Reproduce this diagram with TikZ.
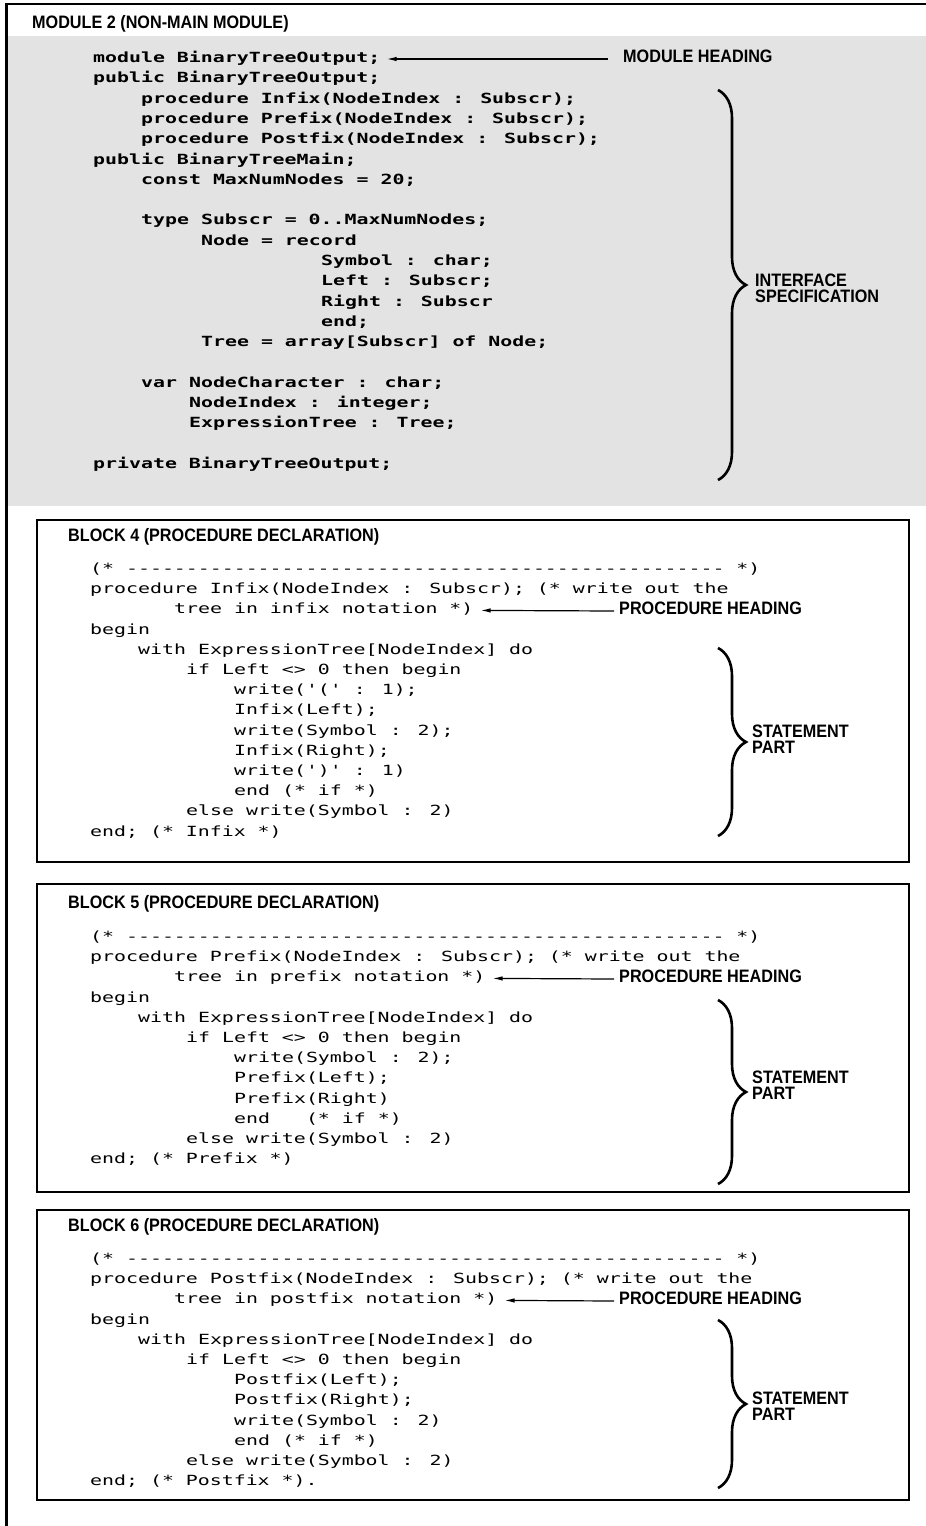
\documentclass[tikz,border=0pt]{standalone}
\usepackage{fontspec}
\usepackage{tikz}
\usetikzlibrary{calc,positioning,decorations.pathreplacing,arrows.meta}
\newfontfamily\codefont{DejaVu Sans Mono}[FakeStretch=1.42]
\newfontfamily\tagfont{Liberation Sans}[FakeStretch=0.9]

\begin{document}
\begin{tikzpicture}[x=1pt,y=-1pt]
        \tikzstyle{every node}=[inner sep=0pt, anchor=west]
        \tikzstyle{code}=[font=\codefont\fontsize{14}{16}\selectfont, text height=10pt, text depth=3pt]
        \tikzstyle{bcode}=[code, font=\codefont\bfseries\fontsize{14}{16}\selectfont]
        \tikzstyle{tag}=[font=\tagfont\bfseries\fontsize{18}{16}\selectfont, text height=10pt, text depth=3pt]
        \tikzstyle{tagtwo}=[font=\tagfont\bfseries\fontsize{18}{16}\selectfont, align=left]
        \tikzstyle{blockbox}=[draw, line width=2.4pt, fill=white]
        \tikzstyle{curly}=[decorate, decoration={brace, amplitude=28pt}, line width=2.6pt]
        \tikzstyle{pointer}=[-{Latex[length=10pt,width=4.5pt]}, line width=1.2pt]

        \useasboundingbox (0,0) rectangle (926,1526);
        \fill[white] (0,0) rectangle (926,1526);
        \fill[black!11] (8,36) rectangle (926,506);
        \draw[line width=2.4pt] (6.5,1526) -- (6.5,4) -- (926,4);

        % module 2
        \node[tag] (t0) at (32,25) {MODULE 2 (NON-MAIN MODULE)};
        \node[bcode] (m1) at (93,59) {module BinaryTreeOutput;};
        \node[bcode] (m2) at ($(m1.west)+(0,20.3)$) {public BinaryTreeOutput;};
        \node[bcode] (m3) at ($(m2.west)+(48,20.3)$) {procedure Infix(NodeIndex : Subscr);};
        \node[bcode] (m4) at ($(m3.west)+(0,20.3)$) {procedure Prefix(NodeIndex : Subscr);};
        \node[bcode] (m5) at ($(m4.west)+(0,20.3)$) {procedure Postfix(NodeIndex : Subscr);};
        \node[bcode] (m6) at ($(m5.west)+(-48,20.3)$) {public BinaryTreeMain;};
        \node[bcode] (m7) at ($(m6.west)+(48,20.3)$) {const MaxNumNodes = 20;};
        \node[bcode] (m8) at ($(m7.west)+(0,40.6)$) {type Subscr = 0..MaxNumNodes;};
        \node[bcode] (m9) at ($(m8.west)+(60,20.3)$) {Node = record};
        \node[bcode] (m10) at ($(m9.west)+(120,20.3)$) {Symbol : char;};
        \node[bcode] (m11) at ($(m10.west)+(0,20.3)$) {Left : Subscr;};
        \node[bcode] (m12) at ($(m11.west)+(0,20.3)$) {Right : Subscr};
        \node[bcode] (m13) at ($(m12.west)+(0,20.3)$) {end;};
        \node[bcode] (m14) at ($(m13.west)+(-120,20.3)$) {Tree = array[Subscr] of Node;};
        \node[bcode] (m15) at ($(m14.west)+(-60,40.6)$) {var NodeCharacter : char;};
        \node[bcode] (m16) at ($(m15.west)+(48,20.3)$) {NodeIndex : integer;};
        \node[bcode] (m17) at ($(m16.west)+(0,20.3)$) {ExpressionTree : Tree;};
        \node[bcode] (m18) at ($(m17.west)+(-96,40.6)$) {private BinaryTreeOutput;};

        \node[tag] (mh) at (623,59) {MODULE HEADING};
        \draw[pointer] ($(mh.west)+(-15,0)$) -- ($(m1.east)+(6,0)$);

        \coordinate (i1) at (718,90);
        \coordinate (i2) at (718,480);
        \draw[curly] (i1) -- (i2);
        \node[tagtwo] (ispec) at (755,288) {INTERFACE\\SPECIFICATION};

        % block 4
        \draw[blockbox] (37,520) rectangle (909,862);
        \node[tag] (t4) at (68,538) {BLOCK 4 (PROCEDURE DECLARATION)};
        \node[code] (a1) at (90,570) {(* -------------------------------------------------- *)};
        \node[code] (a2) at ($(a1.west)+(0,20.2)$) {procedure Infix(NodeIndex : Subscr); (* write out the};
        \node[code] (a3) at ($(a2.west)+(84,20.2)$) {tree in infix notation *)};
        \node[code] (a4) at ($(a3.west)+(-84,20.2)$) {begin};
        \node[code] (a5) at ($(a4.west)+(48,20.2)$) {with ExpressionTree[NodeIndex] do};
        \node[code] (a6) at ($(a5.west)+(48,20.2)$) {if Left <> 0 then begin};
        \node[code] (a7) at ($(a6.west)+(48,20.2)$) {write('(' : 1);};
        \node[code] (a8) at ($(a7.west)+(0,20.2)$) {Infix(Left);};
        \node[code] (a9) at ($(a8.west)+(0,20.2)$) {write(Symbol : 2);};
        \node[code] (a10) at ($(a9.west)+(0,20.2)$) {Infix(Right);};
        \node[code] (a11) at ($(a10.west)+(0,20.2)$) {write(')' : 1)};
        \node[code] (a12) at ($(a11.west)+(0,20.2)$) {end (* if *)};
        \node[code] (a13) at ($(a12.west)+(-48,20.2)$) {else write(Symbol : 2)};
        \node[code] (a14) at ($(a13.west)+(-96,20.2)$) {end; (* Infix *)};

        \node[tag] (h4) at (619,611) {PROCEDURE HEADING};
        \draw[pointer] ($(h4.west)+(-5,0)$) -- ($(a3.east)+(7,0)$);
        \coordinate (s41) at (718,648);
        \coordinate (s42) at (718,836);
        \draw[curly] (s41) -- (s42);
        \node[tagtwo] (st4) at (752,739) {STATEMENT\\PART};

        % block 5
        \draw[blockbox] (37,884) rectangle (909,1192);
        \node[tag] (t5) at (68,905) {BLOCK 5 (PROCEDURE DECLARATION)};
        \node[code] (b1) at (90,938) {(* -------------------------------------------------- *)};
        \node[code] (b2) at ($(b1.west)+(0,20.2)$) {procedure Prefix(NodeIndex : Subscr); (* write out the};
        \node[code] (b3) at ($(b2.west)+(84,20.2)$) {tree in prefix notation *)};
        \node[code] (b4) at ($(b3.west)+(-84,20.2)$) {begin};
        \node[code] (b5) at ($(b4.west)+(48,20.2)$) {with ExpressionTree[NodeIndex] do};
        \node[code] (b6) at ($(b5.west)+(48,20.2)$) {if Left <> 0 then begin};
        \node[code] (b7) at ($(b6.west)+(48,20.2)$) {write(Symbol : 2);};
        \node[code] (b8) at ($(b7.west)+(0,20.2)$) {Prefix(Left);};
        \node[code] (b9) at ($(b8.west)+(0,20.2)$) {Prefix(Right)};
        \node[code] (b10) at ($(b9.west)+(0,20.2)$) {end~~~(* if *)};
        \node[code] (b11) at ($(b10.west)+(-48,20.2)$) {else write(Symbol : 2)};
        \node[code] (b12) at ($(b11.west)+(-96,20.2)$) {end; (* Prefix *)};

        \node[tag] (h5) at (619,979) {PROCEDURE HEADING};
        \draw[pointer] ($(h5.west)+(-5,0)$) -- ($(b3.east)+(7,0)$);
        \coordinate (s51) at (718,1000);
        \coordinate (s52) at (718,1184);
        \draw[curly] (s51) -- (s52);
        \node[tagtwo] (st5) at (752,1085) {STATEMENT\\PART};

        % block 6
        \draw[blockbox] (37,1210) rectangle (909,1500);
        \node[tag] (t6) at (68,1228) {BLOCK 6 (PROCEDURE DECLARATION)};
        \node[code] (c1) at (90,1260) {(* -------------------------------------------------- *)};
        \node[code] (c2) at ($(c1.west)+(0,20.2)$) {procedure Postfix(NodeIndex : Subscr); (* write out the};
        \node[code] (c3) at ($(c2.west)+(84,20.2)$) {tree in postfix notation *)};
        \node[code] (c4) at ($(c3.west)+(-84,20.2)$) {begin};
        \node[code] (c5) at ($(c4.west)+(48,20.2)$) {with ExpressionTree[NodeIndex] do};
        \node[code] (c6) at ($(c5.west)+(48,20.2)$) {if Left <> 0 then begin};
        \node[code] (c7) at ($(c6.west)+(48,20.2)$) {Postfix(Left);};
        \node[code] (c8) at ($(c7.west)+(0,20.2)$) {Postfix(Right);};
        \node[code] (c9) at ($(c8.west)+(0,20.2)$) {write(Symbol : 2)};
        \node[code] (c10) at ($(c9.west)+(0,20.2)$) {end (* if *)};
        \node[code] (c11) at ($(c10.west)+(-48,20.2)$) {else write(Symbol : 2)};
        \node[code] (c12) at ($(c11.west)+(-96,20.2)$) {end; (* Postfix *).};

        \node[tag] (h6) at (619,1301) {PROCEDURE HEADING};
        \draw[pointer] ($(h6.west)+(-5,0)$) -- ($(c3.east)+(7,0)$);
        \coordinate (s61) at (718,1320);
        \coordinate (s62) at (718,1488);
        \draw[curly] (s61) -- (s62);
        \node[tagtwo] (st6) at (752,1406) {STATEMENT\\PART};
\end{tikzpicture}
\end{document}
